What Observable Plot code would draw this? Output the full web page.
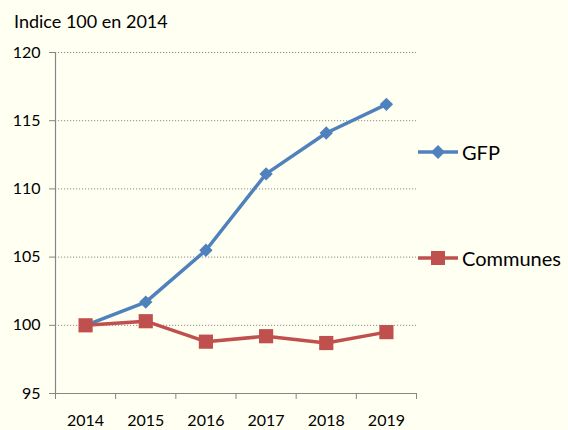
<!DOCTYPE html>
<html><head><meta charset="utf-8">
<script src="https://cdn.jsdelivr.net/npm/d3@7"></script>
<script src="https://cdn.jsdelivr.net/npm/@observablehq/plot@0.6"></script>
<style>
html,body{margin:0;padding:0;background:#fffff2;}
#wrap{position:relative;width:568px;height:430px;background:#fffff2;overflow:hidden;font-family:Lato,"Open Sans",sans-serif;color:#000;}
#title{position:absolute;left:14px;top:10px;font-size:18px;line-height:22px;white-space:nowrap;}
#chart{position:absolute;left:0;top:40px;}
.leg{position:absolute;left:418px;height:26px;display:flex;align-items:center;font-size:20px;line-height:26px;white-space:nowrap;}
.leg svg{margin-right:4px;flex:none;}
</style></head>
<body>
<div id="wrap">
  <div id="title">Indice 100 en 2014</div>
  <div id="chart"></div>
</div>
<script>
const years = [2014, 2015, 2016, 2017, 2018, 2019];
const gfp = [100, 101.7, 105.5, 111.1, 114.1, 116.2];
const communes = [100, 100.3, 98.8, 99.2, 98.7, 99.5];
const yTicks = [95, 100, 105, 110, 115, 120];
const seriesNames = ["GFP", "Communes"];
const seriesColors = ["#4f81bd", "#c0504d"];
const seriesSymbols = ["diamond2", "square"];
const legendTops = [139, 245];

const data = [
  ...years.map((year, i) => ({year, value: gfp[i], series: "GFP"})),
  ...years.map((year, i) => ({year, value: communes[i], series: "Communes"}))
];
const boundaries = [...years.map(y => y - 0.5), years[years.length - 1] + 0.5];
const axisColor = "#868686";

const chart = Plot.plot({
  width: 568,
  height: 390,
  marginLeft: 55,
  marginRight: 152,
  marginTop: 12,
  marginBottom: 37,
  style: {background: "transparent", fontFamily: "Lato, 'Open Sans', sans-serif", fontSize: "16px", color: "#000", overflow: "visible"},
  x: {domain: [boundaries[0], boundaries[boundaries.length - 1]], label: null},
  y: {domain: [yTicks[0], yTicks[yTicks.length - 1]], label: null},
  color: {domain: seriesNames, range: seriesColors},
  symbol: {domain: seriesNames, range: seriesSymbols},
  marks: [
    Plot.gridY(yTicks.slice(1), {stroke: "#8a8a8a", strokeOpacity: 1, strokeDasharray: "1.2,1.8", strokeWidth: 1}),
    Plot.ruleX([boundaries[0]], {stroke: axisColor, strokeWidth: 1.2}),
    Plot.ruleY([yTicks[0]], {stroke: axisColor, strokeWidth: 1.2}),
    Plot.axisY(yTicks, {tickSize: 6, tickPadding: 9, stroke: axisColor, fill: "#000", fontSize: 16}),
    Plot.axisX(boundaries, {tickSize: 6, tickFormat: () => "", stroke: axisColor}),
    Plot.axisX(years, {tickSize: 0, tickPadding: 21, tickFormat: d => String(d), fill: "#000", fontSize: 16}),
    Plot.line(data, {x: "year", y: "value", z: "series", stroke: "series", strokeWidth: 3.5}),
    Plot.dot(data.filter(d => d.series === "GFP"), {x: "year", y: "value", symbol: "series", fill: "series", r: 6}),
    Plot.dot(data.filter(d => d.series === "Communes"), {x: "year", y: "value", symbol: "series", fill: "series", r: 8})
  ]
});
document.getElementById("chart").appendChild(chart);

const wrap = document.getElementById("wrap");
seriesNames.forEach((name, i) => {
  const div = document.createElement("div");
  div.className = "leg";
  div.style.top = legendTops[i] + "px";
  const sym = seriesSymbols[i] === "square"
    ? `<rect x="13" y="6" width="14" height="14" fill="${seriesColors[i]}"/>`
    : `<path d="M20,6 L27,13 L20,20 L13,13 Z" fill="${seriesColors[i]}"/>`;
  div.innerHTML = `<svg width="40" height="26"><line x1="0" x2="40" y1="13" y2="13" stroke="${seriesColors[i]}" stroke-width="3.5"/>${sym}</svg><span>${name}</span>`;
  wrap.appendChild(div);
});
</script>
</body></html>
